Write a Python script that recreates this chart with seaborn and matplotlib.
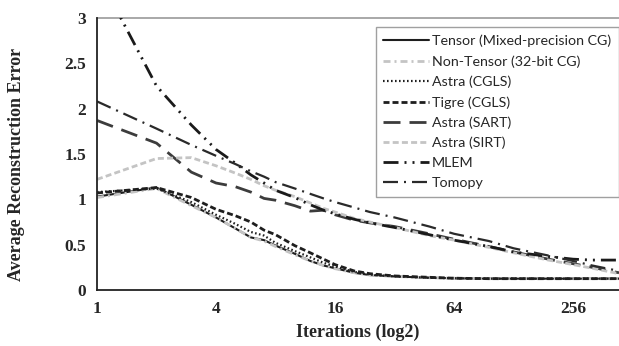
import numpy as np
import pandas as pd
import matplotlib
matplotlib.use("Agg")
import matplotlib.pyplot as plt
import seaborn as sns

# ---------------- data ----------------
iterations = [1, 2, 3, 4, 5, 6, 7, 8, 10, 12, 14, 16, 20, 24, 32, 48, 64, 96, 128, 192, 256, 320, 437]

tensor     = [1.03, 1.13, 0.94, 0.80, 0.68, 0.58, 0.55, 0.49, 0.40, 0.32, 0.27, 0.24, 0.19, 0.165, 0.15, 0.135, 0.13, 0.125, 0.125, 0.125, 0.125, 0.125, 0.125]
non_tensor = [1.02, 1.12, 0.93, 0.80, 0.68, 0.58, 0.54, 0.48, 0.39, 0.32, 0.27, 0.235, 0.19, 0.165, 0.15, 0.135, 0.13, 0.125, 0.125, 0.125, 0.125, 0.125, 0.125]
astra_cgls = [1.08, 1.12, 0.97, 0.83, 0.73, 0.64, 0.60, 0.52, 0.43, 0.36, 0.30, 0.26, 0.20, 0.17, 0.15, 0.135, 0.13, 0.125, 0.125, 0.125, 0.125, 0.125, 0.125]
tigre_cgls = [1.07, 1.13, 1.02, 0.89, 0.82, 0.75, 0.66, 0.61, 0.49, 0.41, 0.34, 0.28, 0.21, 0.18, 0.155, 0.14, 0.13, 0.125, 0.125, 0.125, 0.125, 0.125, 0.125]
astra_sart = [1.87, 1.62, 1.30, 1.18, 1.14, 1.08, 1.01, 0.99, 0.93, 0.87, 0.88, 0.83, 0.77, 0.74, 0.70, 0.62, 0.56, 0.48, 0.42, 0.34, 0.29, 0.25, 0.19]
astra_sirt = [1.22, 1.45, 1.46, 1.37, 1.29, 1.22, 1.15, 1.10, 1.03, 0.96, 0.90, 0.86, 0.79, 0.75, 0.69, 0.60, 0.55, 0.47, 0.41, 0.33, 0.28, 0.24, 0.18]
mlem       = [3.50, 2.25, 1.82, 1.55, 1.40, 1.27, 1.18, 1.10, 1.02, 0.94, 0.88, 0.84, 0.78, 0.74, 0.69, 0.61, 0.55, 0.48, 0.42, 0.37, 0.34, 0.33, 0.33]
tomopy     = [2.08, 1.78, 1.60, 1.48, 1.39, 1.31, 1.25, 1.19, 1.12, 1.06, 1.01, 0.97, 0.91, 0.86, 0.80, 0.70, 0.62, 0.54, 0.46, 0.38, 0.32, 0.27, 0.21]

labels = ["Tensor (Mixed-precision CG)", "Non-Tensor (32-bit CG)", "Astra (CGLS)", "Tigre (CGLS)",
          "Astra (SART)", "Astra (SIRT)", "MLEM", "Tomopy"]
series = [tensor, non_tensor, astra_cgls, tigre_cgls, astra_sart, astra_sirt, mlem, tomopy]

x_ticks = [1, 4, 16, 64, 256]
y_ticks = [0, 0.5, 1, 1.5, 2, 2.5, 3]
y_tick_labels = ["0", "0.5", "1", "1.5", "2", "2.5", "3"]

# ---------------- style ----------------
sns.set_style("white")
plt.rcParams["font.family"] = ["Liberation Serif", "DejaVu Serif"]

PX = 72.0 / 100.0  # points per pixel at dpi 100


def dash(px_list, lw):
    return (0, tuple(p * PX / lw for p in px_list))


styles = [
    dict(color="#1e1e1e", lw=1.5, ls="-"),
    dict(color="#c4c4c4", lw=2.0, ls=dash([7, 4, 2, 4], 2.0)),
    dict(color="#1e1e1e", lw=1.6, ls=dash([1.6, 2.4], 1.6)),
    dict(color="#1e1e1e", lw=2.0, ls=dash([6, 3], 2.0)),
    dict(color="#3c3c3c", lw=2.0, ls=dash([17, 9], 2.0)),
    dict(color="#c4c4c4", lw=2.0, ls=dash([6, 3.2], 2.0)),
    dict(color="#1a1a1a", lw=2.0, ls=dash([15, 6, 2, 6, 2, 6], 2.0)),
    dict(color="#2a2a2a", lw=1.6, ls=dash([15, 6, 2, 6], 1.6)),
]

fig = plt.figure(figsize=(6.19, 3.46), dpi=100)
ax = fig.add_axes([97 / 619, 56 / 346, 522 / 619, 272 / 346])

for lab, vals, st in zip(labels, series, styles):
    df = pd.DataFrame({"it": iterations, "err": vals})
    sns.lineplot(data=df, x="it", y="err", ax=ax, color=st["color"], linewidth=st["lw"],
                 linestyle=st["ls"], label=lab, estimator=None, sort=False)

ax.set_xscale("log", base=2)
ax.set_xlim(1, 437)
ax.set_ylim(0, 3)
ax.set_xticks(x_ticks)
ax.set_xticklabels([str(t) for t in x_ticks])
ax.set_yticks(y_ticks)
ax.set_yticklabels(y_tick_labels)
ax.minorticks_off()

for s in ["top", "right"]:
    ax.spines[s].set_visible(False)
for s in ["left", "bottom"]:
    ax.spines[s].set_color("#222222")
    ax.spines[s].set_linewidth(1.3)
ax.axhline(3, color="#9a9a9a", lw=1.2, clip_on=False, zorder=0)

ax.tick_params(axis="both", direction="out", length=4, width=1.0, color="#222222",
               labelsize=12.5, pad=4)
for t in ax.get_xticklabels() + ax.get_yticklabels():
    t.set_fontweight("bold")

ax.set_xlabel("Iterations (log2)", fontsize=13, fontweight="bold", labelpad=5)
ax.set_ylabel("Average Reconstruction Error", fontsize=13, fontweight="bold")
ax.yaxis.set_label_coords(-0.137, 0.463)

leg = ax.legend(loc="upper right", bbox_to_anchor=(1.0, 0.967), frameon=True, fancybox=False,
                edgecolor="#a0a0a0", framealpha=1, borderaxespad=0,
                prop={"family": ["Lato", "DejaVu Sans"], "size": 10.3},
                handlelength=3.2, handletextpad=0.2, labelspacing=0.55, borderpad=0.55)
leg.get_frame().set_linewidth(1.0)

fig.savefig("out.png", dpi=100)
